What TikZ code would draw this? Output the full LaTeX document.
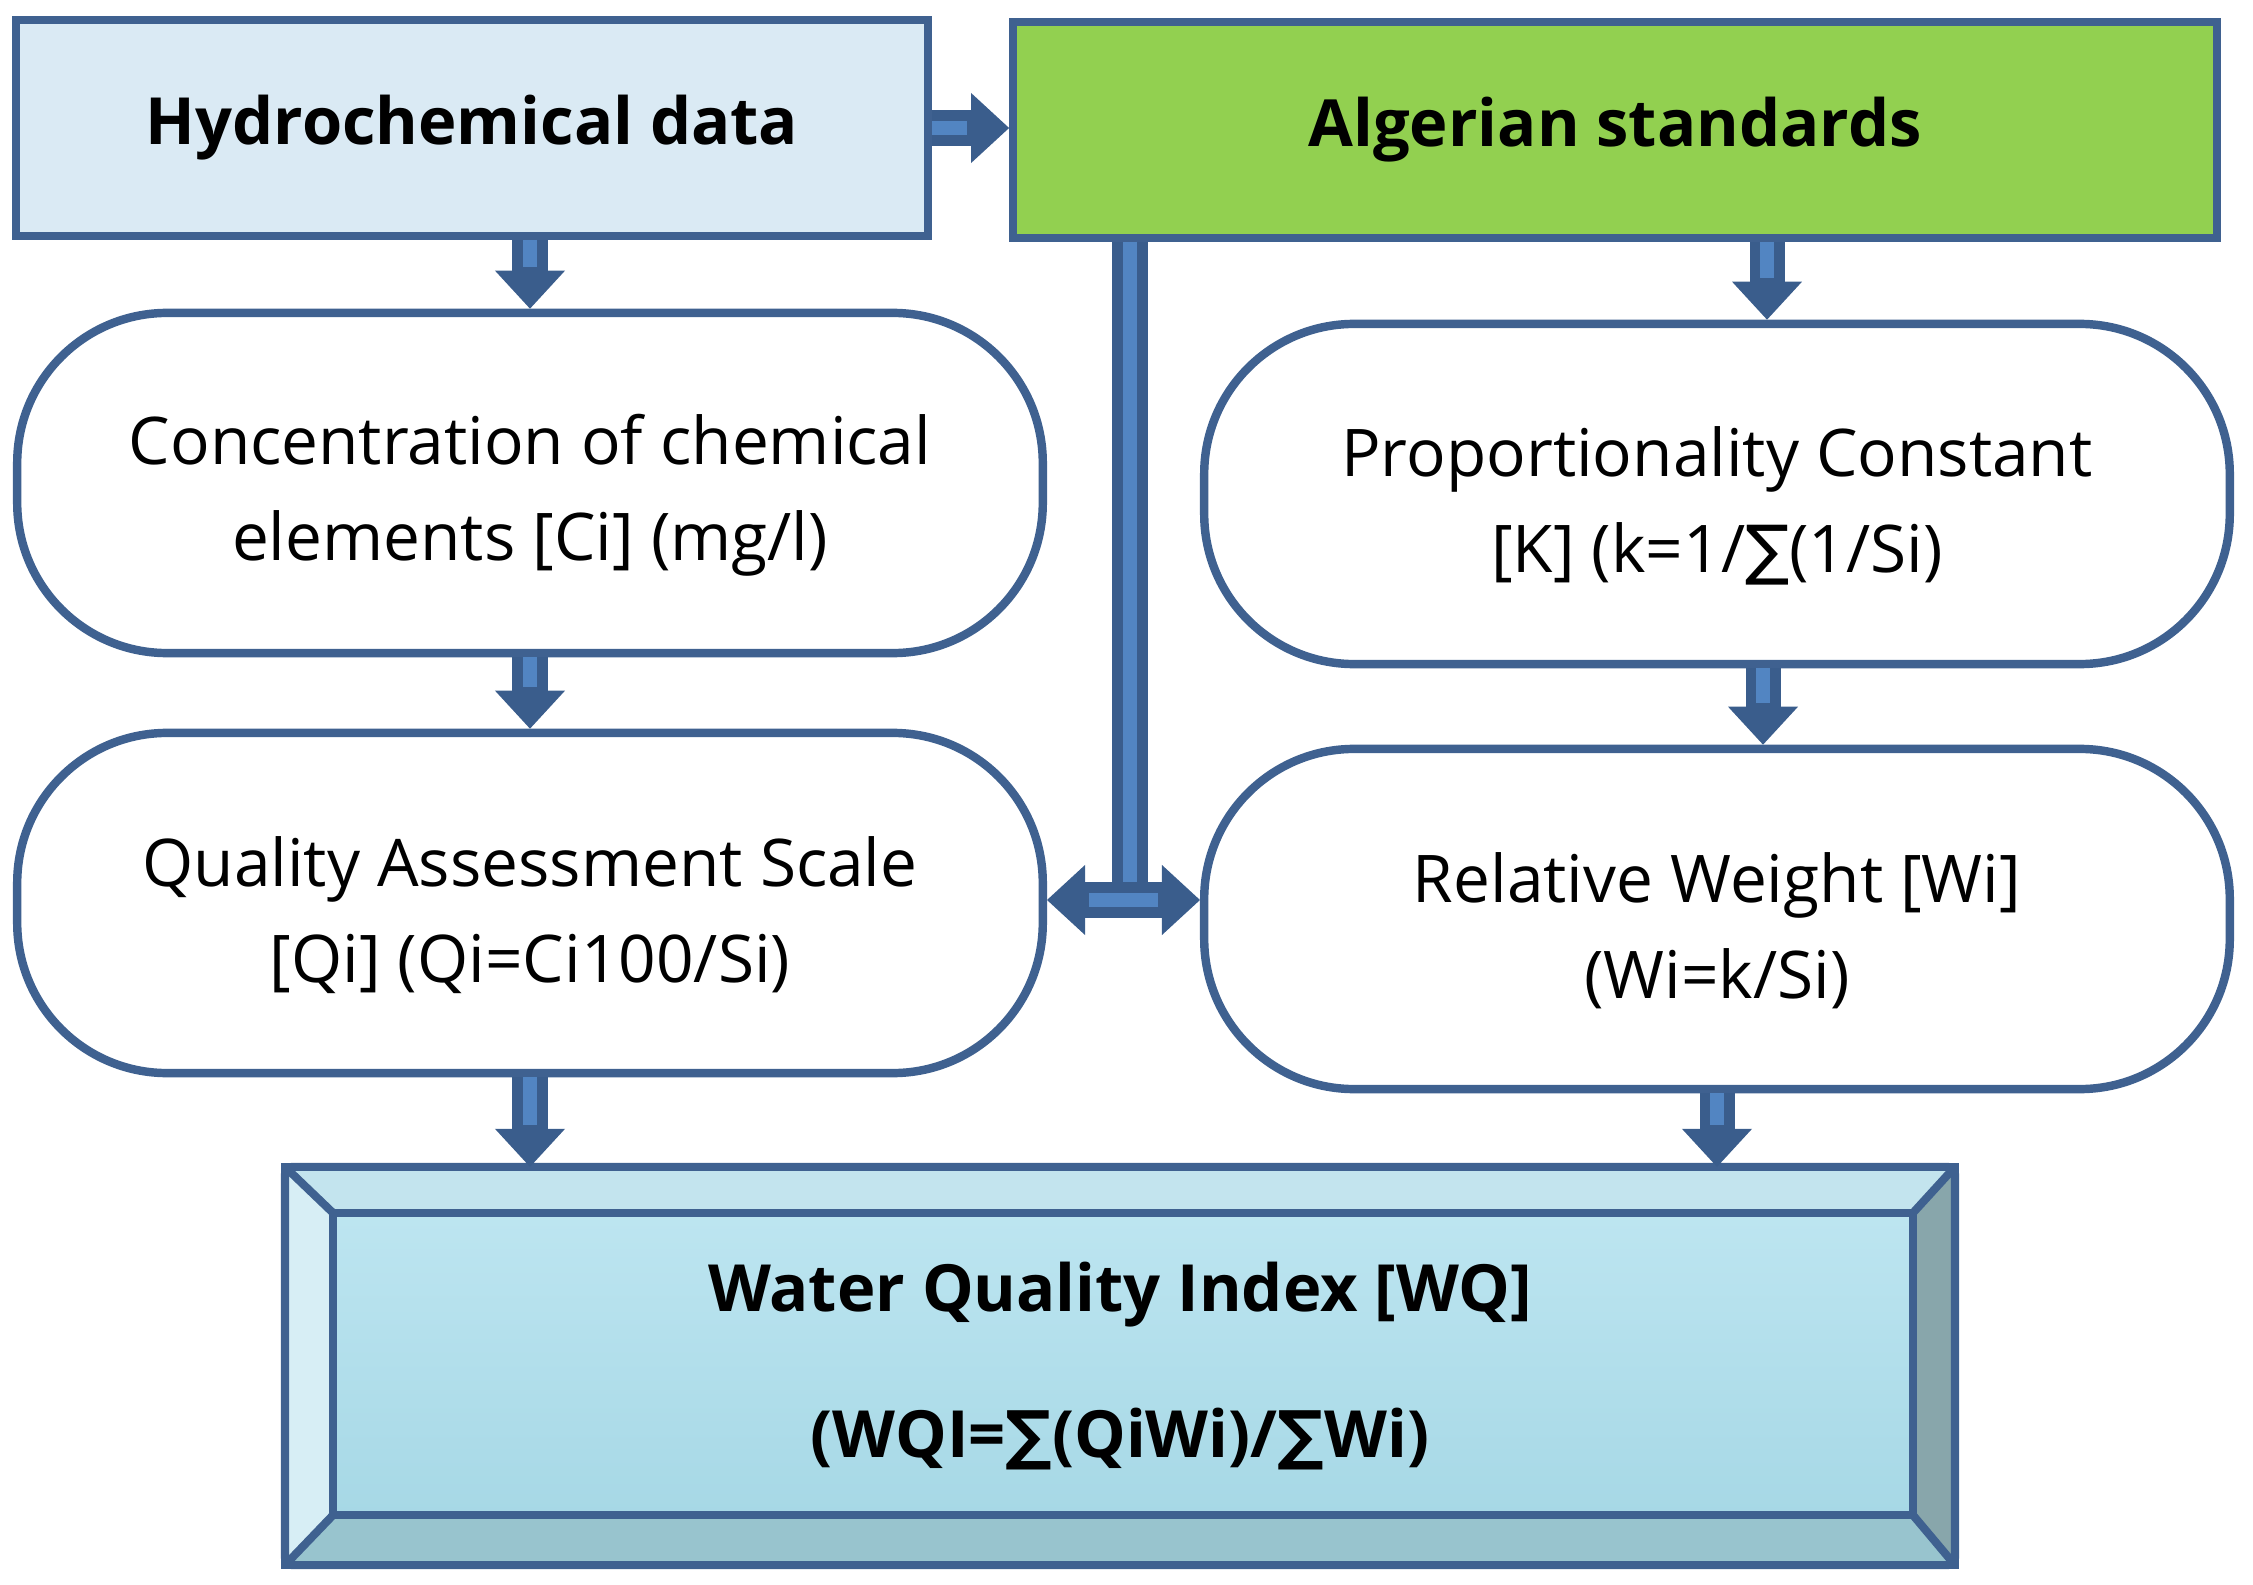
\documentclass[tikz,border=0pt]{standalone}
\usepackage{fontspec}
\setmainfont{Open Sans}
\newfontfamily\sumfont{DejaVu Sans}
\usetikzlibrary{arrows.meta}
\newcommand{\sumsign}{{\sumfont ∑}}
\newcommand{\lift}{\rule{0pt}{21pt}}
\definecolor{frame}{HTML}{3F6190}
\definecolor{arrowdark}{HTML}{3A5D8C}
\definecolor{arrowlight}{HTML}{5285C2}
\definecolor{hydrofill}{HTML}{DAEAF4}
\definecolor{algfill}{HTML}{92D050}
\definecolor{watertop}{HTML}{C0E7F2}
\definecolor{waterbot}{HTML}{A3D6E4}
\definecolor{bevtop}{HTML}{C3E4EE}
\definecolor{bevleft}{HTML}{D7EEF5}
\definecolor{bevbot}{HTML}{98C4CE}
\definecolor{bevright}{HTML}{88A6AB}

\begin{document}
\begin{tikzpicture}[x=0.01cm, y=-0.01cm,
  bigtip/.tip={Triangle[length=0.38cm, width=0.70cm, line width=0pt]},
  box/.style={draw=frame, line width=2.3pt, minimum height=2.15cm, font=\fontsize{18.5}{23}\selectfont\bfseries},
  pill/.style={draw=frame, line width=2.4pt, fill=white, rounded corners=1.5cm, minimum width=10.25cm, minimum height=3.4cm, align=center, font=\fontsize{18.7}{27.3}\selectfont},
  blockarrow/.style={draw=arrowdark, line width=0.35cm, -{bigtip}, postaction={draw=arrowlight, line width=0.14cm, shorten >=0.42cm, arrows=-}},
  blockarrows/.style={draw=arrowdark, line width=0.35cm, {bigtip}-{bigtip}, postaction={draw=arrowlight, line width=0.14cm, shorten >=0.42cm, shorten <=0.42cm, arrows=-}},
  blockline/.style={draw=arrowdark, line width=0.35cm, postaction={draw=arrowlight, line width=0.14cm}}]

\useasboundingbox (0,0) rectangle (2253,1585);

\node[box, fill=hydrofill, minimum width=9.11cm] (hydro) at (472,128) {Hydrochemical data};
\node[box, fill=algfill, minimum width=12.03cm] (alg) at (1615,130) {Algerian standards};

\node[pill] (conc) at (530,483) {\lift Concentration of chemical\\elements {[Ci]} (mg/l)};
\node[pill] (qual) at (530,903) {\lift Quality Assessment Scale\\{[Qi]} (Qi=Ci100/Si)};
\node[pill] (prop) at (1717,494) {\lift Proportionality Constant\\{[K]} (k=1/\sumsign(1/Si)};
\node[pill] (rel) at (1717,919) {\lift Relative Weight [Wi]\\(Wi=k/Si)};

\node[draw=frame, line width=2.3pt, outer sep=0pt, minimum width=16.69cm, minimum height=3.98cm, top color=watertop, bottom color=waterbot, align=center, font=\fontsize{18.5}{41.5}\selectfont\bfseries] (wqi) at (1120,1366) {Water Quality Index [WQ]\\(WQI=\sumsign(QiWi)/\sumsign Wi)};

\coordinate (w1) at ([shift={(0.48cm,-0.46cm)}]wqi.north west);
\coordinate (w2) at ([shift={(-0.42cm,-0.46cm)}]wqi.north east);
\coordinate (w3) at ([shift={(-0.42cm,0.50cm)}]wqi.south east);
\coordinate (w4) at ([shift={(0.48cm,0.50cm)}]wqi.south west);
\fill[bevtop] (wqi.north west) -- (wqi.north east) -- (w2) -- (w1) -- cycle;
\fill[bevleft] (wqi.north west) -- (w1) -- (w4) -- (wqi.south west) -- cycle;
\fill[bevbot] (wqi.south west) -- (w4) -- (w3) -- (wqi.south east) -- cycle;
\fill[bevright] (wqi.north east) -- (wqi.south east) -- (w3) -- (w2) -- cycle;
\draw[frame, line width=2.3pt] (w1) rectangle (w3);
\draw[frame, line width=2.3pt] (wqi.north west) -- (w1) (wqi.north east) -- (w2) (wqi.south east) -- (w3) (wqi.south west) -- (w4);
\draw[frame, line width=2.3pt, rounded corners=2pt] (wqi.north west) rectangle (wqi.south east);

\coordinate (kx) at ([xshift=0.5cm]prop.north);
\coordinate (wx) at ([xshift=0.46cm]rel.north);
\coordinate (jn) at (1130,900);

\draw[blockarrow] (hydro.east) -- (hydro.east -| alg.west);
\draw[blockarrow] (hydro.south -| conc.north) -- (conc.north);
\draw[blockarrow] (conc.south) -- (qual.north);
\draw[blockarrow] (qual.south) -- (qual.south |- wqi.north);
\draw[blockarrow] (alg.south -| kx) -- (kx);
\draw[blockarrow] (prop.south -| wx) -- (wx);
\draw[blockarrow] (rel.south) -- (rel.south |- wqi.north);

\draw[blockline] (alg.south -| jn) -- (jn);
\draw[blockarrows] (jn -| qual.east) -- (jn -| rel.west);

\end{tikzpicture}
\end{document}
